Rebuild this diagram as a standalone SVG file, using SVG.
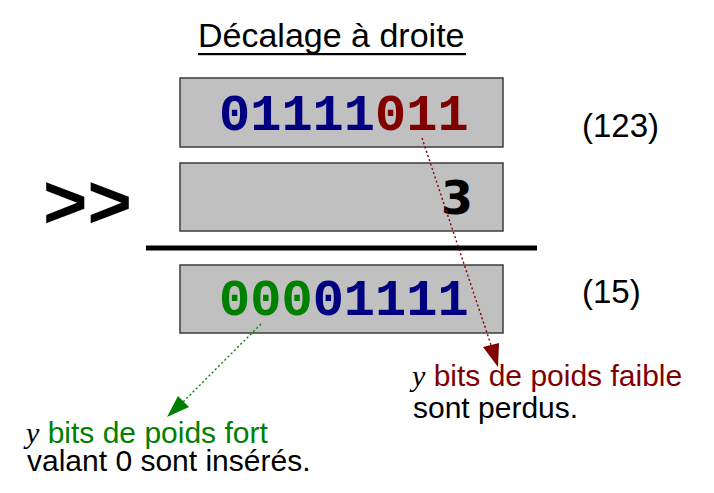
<svg xmlns="http://www.w3.org/2000/svg" width="714" height="493" viewBox="0 0 714 493">
<defs>
<style>
.box{fill:#c0c0c0;stroke:#3c3c3c;stroke-width:1.5}
.sans{font-family:"Liberation Sans",Arial,sans-serif;fill:#000}
.mono{font-family:"Liberation Mono","Courier New",monospace;font-weight:bold;font-size:52px}
.blue{fill:#000080}.red{fill:#800000}.green{fill:#008000}
.yvar{font-family:"Liberation Serif","Times New Roman",serif;font-style:italic;fill:#000}
.dotred{stroke:#800000;stroke-width:1.4;stroke-dasharray:2 2.5;fill:none}
.dotgreen{stroke:#008000;stroke-width:1.4;stroke-dasharray:2 2.5;fill:none}
</style>
</defs>
<rect width="714" height="493" fill="#fff"/>
<g id="title">
<text class="sans" x="198" y="47" font-size="34">Décalage à droite</text>
<rect x="198" y="53" width="268" height="2.2" fill="#000"/>
</g>
<g id="operand">
<rect class="box" x="180" y="78" width="323" height="69"/>
<text class="mono" x="219" y="130"><tspan class="blue">01111</tspan><tspan class="red">011</tspan></text>
</g>
<g id="label123"><text class="sans" x="582" y="137" font-size="33">(123)</text></g>
<g id="shiftop"><text class="sans" x="43" y="228" font-size="76" font-weight="bold">&gt;&gt;</text></g>
<g id="shift">
<rect class="box" x="180" y="163" width="323" height="68"/>
<text x="441" y="214" font-size="46" font-family="'DejaVu Sans',sans-serif" font-weight="600" fill="#000">3</text>
</g>
<g id="bar"><rect x="146" y="245.5" width="391" height="5" fill="#000"/></g>
<g id="result">
<rect class="box" x="180" y="265" width="323" height="68"/>
<text class="mono" x="219" y="315"><tspan class="green">000</tspan><tspan class="blue">01111</tspan></text>
</g>
<g id="label15"><text class="sans" x="582" y="303" font-size="33">(15)</text></g>
<g id="note-lost">
<text x="412" y="386" font-size="30"><tspan class="yvar">y</tspan><tspan class="sans red"> bits de poids faible</tspan></text>
<text class="sans" x="413" y="418" font-size="30">sont perdus.</text>
</g>
<g id="note-inserted">
<text x="26" y="443" font-size="30"><tspan class="yvar">y</tspan><tspan class="sans green"> bits de poids fort</tspan></text>
<text class="sans" x="27" y="471" font-size="30">valant 0 sont insérés.</text>
</g>
<g id="connectors">
<line class="dotred" x1="422" y1="138" x2="491" y2="345"/>
<polygon points="483,347 499,343 498,367" fill="#800000"/>
<line class="dotgreen" x1="261" y1="324" x2="183" y2="402"/>
<polygon points="178,396 189,407 167,417" fill="#008000"/>
</g>
</svg>
